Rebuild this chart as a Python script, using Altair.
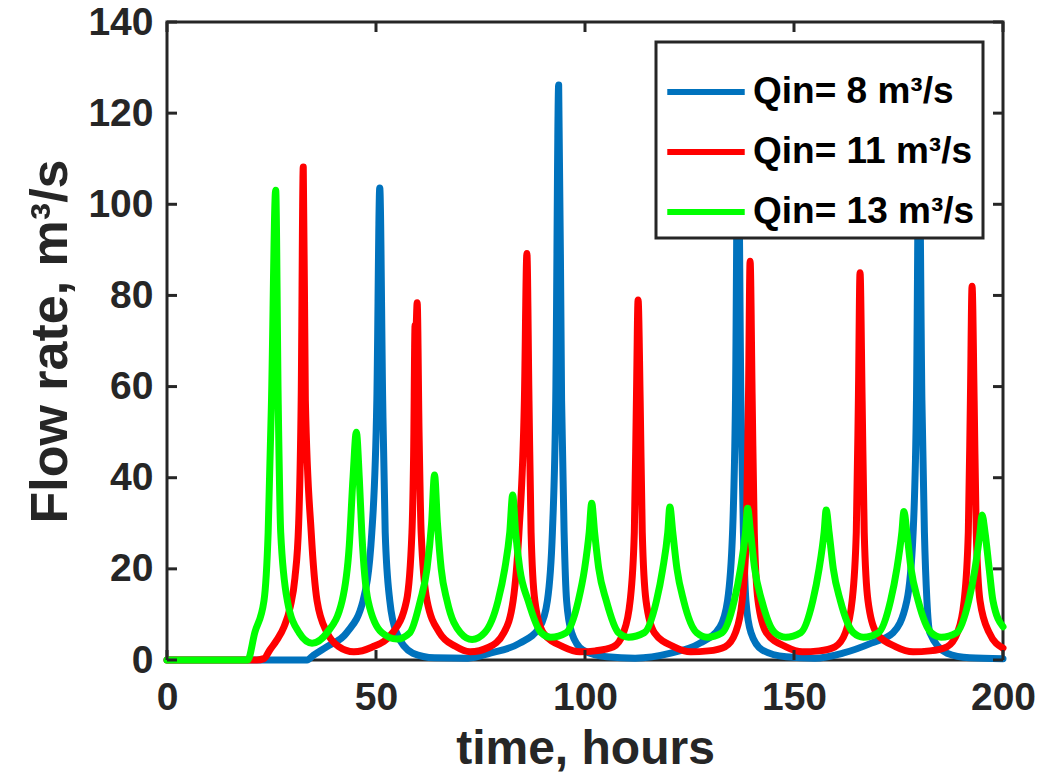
import altair as alt
import pandas as pd

# ---------------- data ----------------
SERIES = ["Qin= 8 m³/s", "Qin= 11 m³/s", "Qin= 13 m³/s"]
COLORS = ["#0072BD", "#FF0000", "#00FF00"]

blue_t = [0, 33.5, 35.0, 38.2, 43.0, 46.9, 49.0, 50.2, 50.9, 51.6, 52.2, 53.3, 54.9, 58.8,
          64.0, 72.0, 77.3, 84.4, 89.2, 91.0, 92.2, 93.0, 93.7, 94.4, 95.0, 95.6, 96.8, 99.5,
          105.2, 112.0, 120.5, 127.5, 132.3, 134.1, 135.3, 136.0, 136.6, 137.3, 137.9, 138.5,
          139.7, 142.4, 148.1, 155.0, 161.7, 168.5, 173.7, 177.0, 178.5, 179.3, 179.9, 180.6,
          181.2, 181.8, 182.5, 186.6, 192.0, 200.0]
blue_v = [0, 0, 1.0, 2.9, 6.0, 13.0, 28.0, 57.0, 103.6, 57.0, 28.0, 13.0, 6.0, 1.5,
          0.5, 0.4, 1.5, 3.7, 7.3, 13.0, 28.0, 57.0, 126.2, 57.0, 28.0, 13.0, 6.0, 2.2,
          0.7, 0.4, 1.5, 3.7, 7.3, 13.0, 28.0, 57.0, 120.0, 57.0, 28.0, 13.0,
          6.0, 2.2, 0.7, 0.4, 1.5, 3.7, 6.0, 13.0, 28.0, 57.0, 115.0, 57.0,
          28.0, 13.0, 6.0, 1.5, 0.5, 0.3]

red_t = [0, 21.5, 23.2, 24.6, 26.3, 28.0, 29.5, 30.6, 31.5, 32.1, 32.6, 33.1, 34.5, 35.9,
         38.3, 41.0, 44.7, 49.0, 54.0, 57.3, 58.6, 59.0, 59.35, 59.55, 59.85, 60.3, 60.8,
         62.2, 65.2, 69.0, 72.5, 77.0, 80.6, 82.8, 84.2, 85.5, 86.1, 86.6, 87.1, 88.0, 90.0,
         94.8, 98.8, 102.5, 106.8, 109.2, 110.8, 111.8, 112.3, 112.7, 113.2, 113.7, 114.6,
         116.6, 121.3, 125.3, 129.5, 133.5, 136.0, 137.6, 138.6, 139.1, 139.5, 140.0, 140.5,
         141.4, 143.4, 148.1, 152.0, 156.0, 159.8, 162.3, 163.9, 164.9, 165.4, 165.8, 166.3,
         166.8, 167.7, 169.7, 174.4, 178.5, 182.5, 186.6, 189.1, 190.7, 191.7, 192.2, 192.6,
         193.1, 193.6, 194.5, 196.7, 200.0]
red_v = [0, 0, 0.3, 2.2, 4.4, 7.3, 11.7, 18.0, 30.0, 57.0, 108.2, 57.0, 28.0, 13.0,
         6.0, 3.0, 1.8, 2.8, 6.0, 13.0, 28.0, 45.0, 73.5, 72.5, 78.4, 50.0, 28.0,
         13.0, 6.0, 3.0, 1.8, 2.8, 6.0, 13.0, 28.0, 57.0, 89.2, 57.0, 28.0, 13.0, 6.0,
         2.9, 1.8, 2.0, 2.9, 6.0, 13.0, 28.0, 57.0, 79.0, 57.0, 28.0, 13.0,
         6.0, 2.9, 1.8, 2.0, 2.9, 6.0, 13.0, 28.0, 57.0, 87.5, 57.0, 28.0,
         13.0, 6.0, 2.9, 1.8, 2.0, 2.9, 6.0, 13.0, 28.0, 57.0, 85.0, 57.0,
         28.0, 13.0, 6.0, 2.9, 1.8, 2.0, 2.9, 6.0, 13.0, 28.0, 57.0, 82.0,
         57.0, 28.0, 13.0, 6.0, 2.6]

green_t = [0, 19.3, 21.0, 23.2, 24.2, 25.0, 26.0, 26.6, 27.2, 28.8, 31.6, 34.7, 38.3, 41.9,
           43.6, 44.5, 45.3, 46.0, 46.6, 48.1, 51.4, 55.0,
           58.1, 60.6, 62.2, 63.3, 64.0, 64.7, 65.6, 67.0, 70.2, 73.0,
           76.0, 79.2, 80.8, 82.0, 82.7, 83.4, 84.4, 86.4, 89.5, 91.8,
           95.5, 98.4, 99.9, 101.0, 101.6, 102.3, 103.3, 105.1, 108.0, 110.4,
           114.2, 117.1, 118.6, 119.8, 120.3, 121.0, 122.0, 123.6, 126.7, 129.2,
           132.8, 135.7, 137.2, 138.4, 138.9, 139.6, 140.6, 142.3, 145.4, 148.0,
           151.6, 154.5, 156.0, 157.2, 157.7, 158.4, 159.4, 161.1, 164.2, 166.6,
           170.2, 173.1, 174.6, 175.8, 176.3, 177.0, 178.0, 179.7, 182.8, 185.2,
           188.9, 191.8, 193.3, 194.5, 195.0, 195.7, 196.7, 197.6, 200.0]
green_v = [0, 0, 6.0, 13.0, 28.0, 57.0, 103.1, 57.0, 28.0, 13.0, 6.0, 3.7, 6.0, 13.0,
           25.0, 40.0, 50.0, 40.0, 28.0, 13.0, 6.0, 4.6,
           6.0, 13.0, 20.0, 30.0, 40.6, 30.0, 20.0, 13.0, 6.0, 4.5,
           6.0, 13.0, 20.0, 28.0, 36.2, 28.0, 20.0, 13.0, 6.0, 5.0,
           6.0, 13.0, 20.0, 28.0, 34.4, 28.0, 20.0, 13.0, 6.0, 5.0,
           6.0, 13.0, 20.0, 28.0, 33.6, 28.0, 20.0, 13.0, 6.0, 5.0,
           6.0, 13.0, 20.0, 28.0, 33.3, 28.0, 20.0, 13.0, 6.0, 5.0,
           6.0, 13.0, 20.0, 28.0, 32.9, 28.0, 20.0, 13.0, 6.0, 5.0,
           6.0, 13.0, 20.0, 28.0, 32.6, 28.0, 20.0, 13.0, 6.0, 5.0,
           6.0, 13.0, 20.0, 28.0, 31.8, 28.0, 20.0, 13.0, 7.3]

X_TICKS = [0, 50, 100, 150, 200]
Y_TICKS = [0, 20, 40, 60, 80, 100, 120, 140]
X_TITLE = "time, hours"
Y_TITLE = "Flow rate, m³/s"

# ---------------- styling ----------------
W, H = 836, 638
FONT = "Liberation Sans"
INK = "#262626"
TICK_LEN = 10

frames = [pd.DataFrame({"t": ts, "q": vs, "series": name})
          for name, ts, vs in zip(SERIES, [blue_t, red_t, green_t], [blue_v, red_v, green_v])]
df = pd.concat(frames, ignore_index=True)

x_scale = alt.Scale(domain=[0, 200], nice=False, zero=False)
y_scale = alt.Scale(domain=[0, 140], nice=False)

x_axis = alt.Axis(values=X_TICKS, ticks=False, domain=False, grid=False,
                  labelFontSize=39, labelFont=FONT, labelFontWeight="bold", labelColor=INK,
                  labelPadding=18, labelFlush=False,
                  titleFontSize=48, titleFont=FONT, titleFontWeight="bold", titleColor=INK,
                  titlePadding=8)
y_axis = alt.Axis(values=Y_TICKS, ticks=False, domain=False, grid=False,
                  labelFontSize=39, labelFont=FONT, labelFontWeight="bold", labelColor=INK,
                  labelPadding=14, labelFlush=False,
                  titleFontSize=52, titleFont=FONT, titleFontWeight="bold", titleColor=INK,
                  titlePadding=10)

X = alt.X("t:Q", scale=x_scale, axis=x_axis, title=X_TITLE)
Y = alt.Y("q:Q", scale=y_scale, axis=y_axis, title=Y_TITLE)

color = alt.Color("series:N", sort=SERIES,
                  scale=alt.Scale(domain=SERIES, range=COLORS),
                  legend=alt.Legend(title=None))


def line_layer(name):
    return (alt.Chart(df)
            .transform_filter(alt.datum.series == name)
            .mark_line(strokeWidth=7, interpolate="monotone", strokeJoin="round", strokeCap="round")
            .encode(x=X, y=Y, color=color))


xt = pd.DataFrame({"t": X_TICKS})
yt = pd.DataFrame({"q": Y_TICKS})
rule = dict(color=INK, strokeWidth=3)

ticks_bottom = alt.Chart(xt).mark_rule(**rule).encode(x=X, y=alt.value(H), y2=alt.value(H - TICK_LEN))
ticks_top = alt.Chart(xt).mark_rule(**rule).encode(x=X, y=alt.value(0), y2=alt.value(TICK_LEN))
ticks_left = alt.Chart(yt).mark_rule(**rule).encode(y=Y, x=alt.value(0), x2=alt.value(TICK_LEN))
ticks_right = alt.Chart(yt).mark_rule(**rule).encode(y=Y, x=alt.value(W - TICK_LEN), x2=alt.value(W))

chart = (alt.layer(line_layer(SERIES[0]), line_layer(SERIES[1]), line_layer(SERIES[2]),
                   ticks_bottom, ticks_top, ticks_left, ticks_right)
         .properties(width=W, height=H,
                     autosize=alt.AutoSizeParams(type="none"),
                     padding={"left": 167, "top": 22, "right": 37, "bottom": 122},
                     background="white")
         .configure_view(stroke=INK, strokeWidth=3)
         .configure_legend(orient="top-right", offset=20, fillColor="white", strokeColor=INK,
                           strokeWidth=3, padding=8, symbolType="stroke", symbolSize=6000,
                           symbolStrokeWidth=6, labelFontSize=37, labelFont=FONT,
                           labelFontWeight="bold", labelColor="black", labelLimit=600,
                           rowPadding=0, labelOffset=5, cornerRadius=0))

chart.save("out.html", embed_options={"renderer": "svg", "actions": False})
